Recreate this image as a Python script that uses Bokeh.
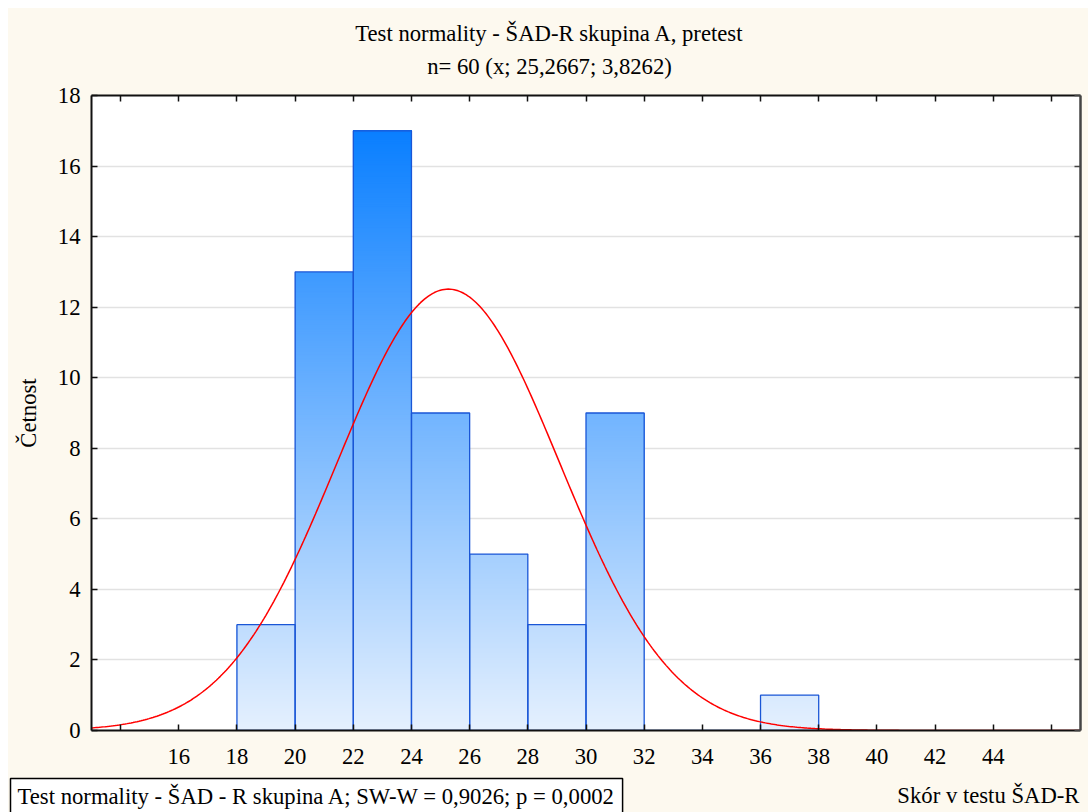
import numpy as np
from bokeh.plotting import figure
from bokeh.layouts import column
from bokeh.models import Range1d, FixedTicker, LinearAxis, Label
from bokeh.embed import file_html
from bokeh.resources import INLINE

# ---- data ----
bin_left = [18, 20, 22, 24, 26, 28, 30, 32, 34, 36]
bin_right = [20, 22, 24, 26, 28, 30, 32, 34, 36, 38]
counts = [3, 13, 17, 9, 5, 3, 9, 0, 0, 1]
n_obs = 60
mean_val = 25.2667
sd_val = 3.8262
x_ticks = list(range(14, 47, 2))
x_tick_labels = {t: (str(t) if 16 <= t <= 44 else "") for t in x_ticks}
y_ticks = list(range(0, 19, 2))

title1 = "Test normality - ŠAD-R skupina A, pretest"
title2 = "n= 60 (x; 25,2667; 3,8262)"
y_label = "Četnost"
x_label = "Skór v testu ŠAD-R"
box_text = "Test normality - ŠAD - R skupina A; SW-W = 0,9026; p = 0,0002"

FONT = "Liberation Serif"
FS = "22.7px"
CREAM = "#fdf9ef"
W = 1080


def no_align(fig):
    if "frame_align" in fig.properties():
        fig.frame_align = False


def strip_figure(height):
    s = figure(width=W, height=height, x_range=Range1d(0, W), y_range=Range1d(0, height),
               output_backend="svg", toolbar_location=None, title=None,
               x_axis_location=None, y_axis_location=None,
               min_border_left=0, min_border_right=0, min_border_top=0, min_border_bottom=0,
               background_fill_color=CREAM, border_fill_color=CREAM, outline_line_color=None)
    s.xgrid.visible = False
    s.ygrid.visible = False
    no_align(s)
    return s


# ---- top strip: titles ----
top = strip_figure(72)
top.add_layout(Label(x=541, y=47, text=title1, text_font=FONT, text_font_size=FS,
                     text_color="black", text_align="center", text_baseline="middle"))
top.add_layout(Label(x=541, y=14, text=title2, text_font=FONT, text_font_size=FS,
                     text_color="black", text_align="center", text_baseline="middle"))

# ---- main plot ----
p = figure(width=W, height=695, x_range=Range1d(13, 47), y_range=Range1d(0, 18),
           output_backend="svg", toolbar_location=None, title=None,
           min_border_left=83, min_border_right=8, min_border_top=15, min_border_bottom=45,
           background_fill_color="white", border_fill_color=CREAM,
           outline_line_color=None)
no_align(p)

# gradient-filled bars (colour follows the height, as in the original)
light = np.array([229, 240, 254], dtype=float)
dark = np.array([10, 127, 255], dtype=float)
step = 0.05
ql, qr, qb, qt, qc = [], [], [], [], []
for l, r, c in zip(bin_left, bin_right, counts):
    if c <= 0:
        continue
    k = 0
    while k * step < c:
        y0 = k * step
        t = min(max((y0 + step / 2) / 17.0, 0), 1)
        col = light + t * (dark - light)
        ql.append(l); qr.append(r); qb.append(y0); qt.append(c)
        qc.append("#%02x%02x%02x" % tuple(int(round(v)) for v in col))
        k += 1
p.quad(left=ql, right=qr, bottom=qb, top=qt, fill_color=qc, line_color=None)
p.quad(left=bin_left, right=bin_right, bottom=0, top=counts, fill_color=None,
       line_color="#1a56d6", line_width=1.3)

# fitted normal curve
bw = bin_right[0] - bin_left[0]
xs = np.linspace(13, 47, 500)
ys = n_obs * bw / (sd_val * np.sqrt(2 * np.pi)) * np.exp(-0.5 * ((xs - mean_val) / sd_val) ** 2)
p.line(xs, ys, line_color="#ff0000", line_width=1.5)


def style_axis(ax, line_color="#111111", lw=2):
    ax.major_tick_in = 6
    ax.major_tick_out = 0
    ax.minor_tick_line_color = None
    ax.axis_line_color = line_color
    ax.axis_line_width = lw
    ax.major_tick_line_color = line_color
    ax.major_tick_line_width = 1.5
    ax.major_label_text_font = FONT
    ax.major_label_text_font_size = FS
    ax.major_label_text_color = "black"


p.xaxis.ticker = FixedTicker(ticks=x_ticks)
p.xaxis.major_label_overrides = x_tick_labels
p.xaxis.major_label_standoff = 18
style_axis(p.xaxis[0])
p.yaxis.ticker = FixedTicker(ticks=y_ticks)
p.yaxis.major_label_standoff = 11
style_axis(p.yaxis[0])
p.yaxis.axis_label = y_label
p.yaxis.axis_label_text_font = FONT
p.yaxis.axis_label_text_font_size = FS
p.yaxis.axis_label_text_font_style = "normal"
p.yaxis.axis_label_text_color = "black"
p.yaxis.axis_label_standoff = 14

top_ax = LinearAxis(ticker=FixedTicker(ticks=x_ticks),
                    major_label_overrides={t: "" for t in x_ticks})
style_axis(top_ax)
top_ax.major_label_standoff = 0
top_ax.axis_label_standoff = 0
top_ax.major_label_text_font_size = "0px"
p.add_layout(top_ax, "above")

right_ax = LinearAxis(ticker=FixedTicker(ticks=y_ticks),
                      major_label_overrides={t: "" for t in y_ticks})
style_axis(right_ax, line_color="#454545", lw=2.5)
right_ax.major_label_standoff = 0
right_ax.axis_label_standoff = 0
right_ax.major_label_text_font_size = "0px"
p.add_layout(right_ax, "right")

p.xgrid.visible = False
p.ygrid.ticker = FixedTicker(ticks=y_ticks[1:-1])
p.ygrid.grid_line_color = "#e2e2e2"
p.ygrid.grid_line_width = 1.5

# ---- bottom strip: test box and x-axis label ----
bottom = strip_figure(37)
bottom.add_layout(Label(x=1071, y=17, text=x_label,
                        text_font=FONT, text_font_size=FS, text_color="black",
                        text_align="right", text_baseline="middle"))
bottom.add_layout(Label(x=2, y=16.5, text=box_text,
                        text_font=FONT, text_font_size=FS, text_color="black",
                        text_align="left", text_baseline="middle",
                        background_fill_color="white", border_line_color="black",
                        border_line_width=1.5, padding=(7, 5)))

layout = column(top, p, bottom, spacing=0, margin=(8, 0, 0, 8),
                styles={"background-color": CREAM})
open("out.html", "w").write(file_html(layout, INLINE))
